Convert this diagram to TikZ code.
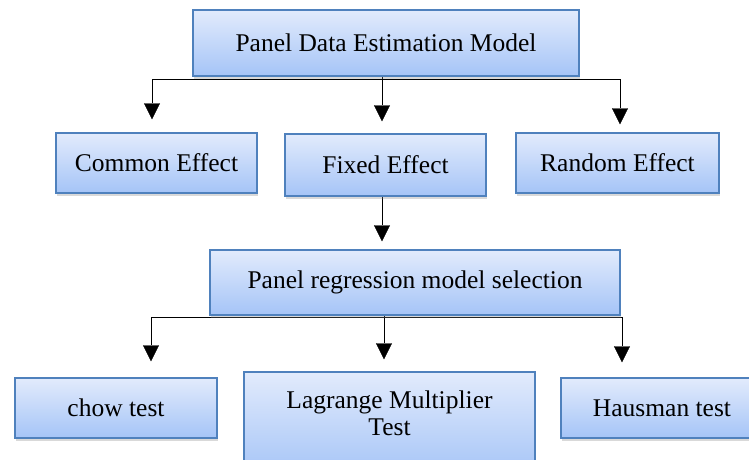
\documentclass[tikz,border=0pt]{standalone}
\usepackage{fontspec}
\setmainfont{Liberation Serif}
\usepackage{tikz}
\usetikzlibrary{arrows.meta,positioning,shadows,backgrounds}

\definecolor{boxtop}{RGB}{226,235,252}
\definecolor{boxbot}{RGB}{165,196,247}
\definecolor{boxline}{RGB}{79,129,189}

\begin{document}
\begin{tikzpicture}[x=1pt, y=1pt, ->, >={Triangle[width=16pt,length=16pt]},
    line width=1.6pt,
    every node/.style={font=\fontsize{25.5}{27}\selectfont},
    box/.style={draw=boxline, line width=1.4pt, top color=boxtop, bottom color=boxbot,
        inner sep=0pt, align=center,
        drop shadow={shadow xshift=1pt, shadow yshift=-3pt, opacity=0.3}}
    ]
\useasboundingbox (0,0) rectangle (749,-459);
% \draw[help lines] (0,0) grid (749,-459);
\node[box, minimum width=386, minimum height=66] (model)  at (386,-43)    {Panel Data Estimation Model};
\node[box, minimum width=201, minimum height=60] (common) at (156.5,-163) {Common Effect};
\node[box, minimum width=201, minimum height=62] (fixed)  at (385.5,-165) {Fixed Effect};
\node[box, minimum width=203, minimum height=60] (random) at (617.5,-163) {Random Effect};

\node[box, minimum width=410, minimum height=65] (select) at (415,-282.5) {Panel regression model selection};

\node[box, minimum width=202, minimum height=60] (chow)   at (116,-408)   {chow test};
\node[box, minimum width=291, minimum height=104] (lm)    at (389.5,-424) {};
\node[align=center] (lmtext) at (389.5,-413.5) {Lagrange Multiplier\\Test};
\node[box, minimum width=202, minimum height=60] (haus)   at (662,-408)   {Hausman test};

\begin{scope}[on background layer]
\path
([xshift=-4pt,yshift=-2pt]model.south) edge [to path={-| (\tikztotarget)}, shorten >=13pt] ([xshift=-4.5pt]common.north)
([xshift=-4pt]model.south)             edge [shorten >=12pt] ([xshift=-3.5pt]fixed.north)
([xshift=-4pt,yshift=-2pt]model.south) edge [to path={-| (\tikztotarget)}, shorten >=8pt] ([xshift=2.5pt]random.north)
;
\path
([xshift=-3.5pt]fixed.south) edge [shorten >=8pt] ([xshift=-3.5pt]fixed.south |- select.north)
;
\path
([xshift=-31pt,yshift=-1pt]select.south) edge [to path={-| (\tikztotarget)}, shorten >=16pt] ([xshift=35pt]chow.north)
([xshift=-31pt]select.south)             edge [shorten >=12pt] ([xshift=-31pt]select.south |- lm.north)
([xshift=-31pt,yshift=-1pt]select.south) edge [to path={-| (\tikztotarget)}, shorten >=15pt] ([xshift=-40pt]haus.north)
;
\end{scope}
\end{tikzpicture}
\end{document}
